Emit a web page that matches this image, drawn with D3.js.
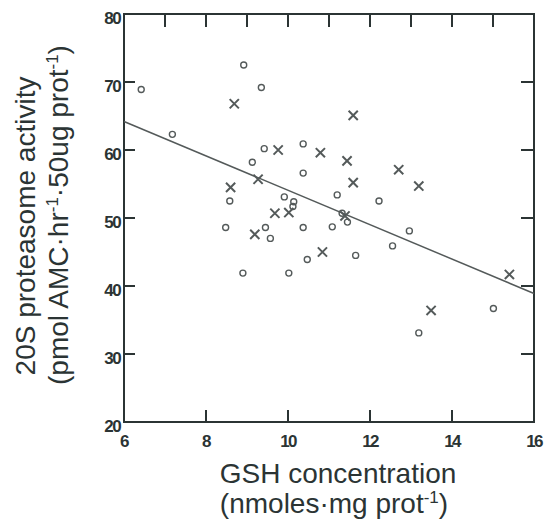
<!DOCTYPE html>
<html>
<head>
<meta charset="utf-8">
<script src="https://cdn.jsdelivr.net/npm/d3@7"></script>
</head>
<body style="margin:0;background:#fff">
<div id="chart"></div>
<script>
// values
const circleX = [6.42, 7.18, 8.92, 9.35, 9.42, 10.37, 9.13, 10.37, 11.20, 9.91, 8.58, 12.22, 10.14, 10.12,
                 11.32, 11.45, 8.48, 9.45, 10.37, 11.08, 12.96, 9.57, 12.55, 10.47, 11.65, 8.90, 10.02,
                 13.19, 15.01];
const circleY = [68.9, 62.3, 72.5, 69.2, 60.2, 60.9, 58.2, 56.6, 53.4, 53.1, 52.5, 52.5, 52.4, 51.7,
                 50.7, 49.4, 48.6, 48.6, 48.6, 48.7, 48.1, 47.0, 45.9, 43.9, 44.5, 41.9, 41.9,
                 33.1, 36.7];
const crossX = [8.69, 11.59, 9.76, 10.79, 11.44, 12.70, 9.27, 11.59, 13.19, 8.60, 9.68, 10.02, 11.39,
                9.19, 10.84, 15.40, 13.49];
const crossY = [66.8, 65.1, 60.0, 59.6, 58.4, 57.1, 55.7, 55.2, 54.7, 54.5, 50.7, 50.8, 50.3,
                47.6, 45.0, 41.7, 36.4];
const fitX = [6, 16];
const fitY = [64.2, 38.9];

const xTickLabels = [6, 8, 10, 12, 14, 16];
const xTopTicks = [7, 8, 9, 10, 11, 12, 13, 14, 15];
const xBottomTicks = [8, 10, 12, 14];
const yTickLabels = [20, 30, 40, 50, 60, 70, 80];
const ySideTicks = [30, 40, 50, 60, 70];

const W = 545, H = 527;
const pad = {top: 14, left: 124, right: 11, bottom: 105};
const ink = "#2b3434";
const markColor = "#545a5a";
const fontFam = "Liberation Sans, Arial, sans-serif";

const svg = d3.select("#chart").append("svg")
    .attr("width", W)
    .attr("height", H);

const xs = d3.scaleLinear().domain([6, 16]).range([pad.left, W - pad.right]);
const ys = d3.scaleLinear().domain([20, 80]).range([H - pad.bottom, pad.top]);

const plotLeft = xs(6), plotRight = xs(16), plotTop = ys(80), plotBottom = ys(20);

// inward ticks, drawn first; they start at the inner edge of the frame stroke
const tickG = svg.append("g").attr("fill", ink);

tickG.selectAll(".tl")
    .data(ySideTicks)
    .join("rect")
    .attr("class", "tl")
    .attr("x", plotLeft + 1).attr("width", 10)
    .attr("y", d => ys(d) - 1).attr("height", 2);

tickG.selectAll(".tr")
    .data(ySideTicks)
    .join("rect")
    .attr("class", "tr")
    .attr("x", plotRight - 13).attr("width", 12)
    .attr("y", d => ys(d) - 1).attr("height", 2);

tickG.selectAll(".tt")
    .data(xTopTicks)
    .join("rect")
    .attr("class", "tt")
    .attr("x", d => xs(d) - 1).attr("width", 2)
    .attr("y", plotTop + 1).attr("height", 12);

tickG.selectAll(".tb")
    .data(xBottomTicks)
    .join("rect")
    .attr("class", "tb")
    .attr("x", d => xs(d) - 1).attr("width", 2)
    .attr("y", plotBottom - 12).attr("height", 11);

// frame
svg.append("rect")
    .attr("x", plotLeft)
    .attr("y", plotTop)
    .attr("width", plotRight - plotLeft)
    .attr("height", plotBottom - plotTop)
    .attr("fill", "none")
    .attr("stroke", ink)
    .attr("stroke-width", 2);

// tick labels
svg.append("g")
    .selectAll("text")
    .data(yTickLabels)
    .join("text")
    .attr("x", plotLeft - 4)
    .attr("y", d => ys(d) + 10)
    .attr("text-anchor", "end")
    .attr("font-family", fontFam)
    .attr("font-size", 17)
    .attr("font-weight", "bold")
    .attr("letter-spacing", -1.6)
    .attr("fill", ink)
    .text(d => d);

svg.append("g")
    .selectAll("text")
    .data(xTickLabels)
    .join("text")
    .attr("x", d => xs(d))
    .attr("y", plotBottom + 25)
    .attr("text-anchor", "middle")
    .attr("font-family", fontFam)
    .attr("font-size", 17)
    .attr("font-weight", "bold")
    .attr("letter-spacing", -1.6)
    .attr("fill", ink)
    .text(d => d);

// regression line
svg.append("line")
    .attr("x1", xs(fitX[0])).attr("y1", ys(fitY[0]))
    .attr("x2", xs(fitX[1])).attr("y2", ys(fitY[1]))
    .attr("stroke", markColor)
    .attr("stroke-width", 1.5);

// open circles
svg.append("g")
    .selectAll("circle")
    .data(d3.zip(circleX, circleY))
    .join("circle")
    .attr("cx", d => xs(d[0]))
    .attr("cy", d => ys(d[1]))
    .attr("r", 3)
    .attr("fill", "none")
    .attr("stroke", markColor)
    .attr("stroke-width", 1.4);

// crosses
const arm = 4.6;
svg.append("g")
    .selectAll("path")
    .data(d3.zip(crossX, crossY))
    .join("path")
    .attr("d", d => {
        const cx = xs(d[0]), cy = ys(d[1]);
        return `M${cx - arm},${cy - arm}L${cx + arm},${cy + arm}M${cx - arm},${cy + arm}L${cx + arm},${cy - arm}`;
    })
    .attr("fill", "none")
    .attr("stroke", markColor)
    .attr("stroke-width", 2);

// axis titles
const title = (t, px, py, rot) => svg.append("text")
    .attr("transform", `translate(${px},${py})` + (rot ? " rotate(-90)" : ""))
    .attr("text-anchor", "middle")
    .attr("font-family", fontFam)
    .attr("font-size", 28)
    .attr("fill", ink)
    .text(t);

title("GSH concentration", 338, 483, false);
const xSub = title("", 334, 513, false);
xSub.append("tspan").text("(nmoles\u00b7mg prot");
xSub.append("tspan").attr("font-size", 17).attr("dy", -10).text("-1");
xSub.append("tspan").attr("dy", 10).text(")");

title("20S proteasome activity", 35, 226, true);
const ySub = title("", 68, 215, true);
ySub.append("tspan").text("(pmol AMC\u00b7hr");
ySub.append("tspan").attr("font-size", 17).attr("dy", -10).text("-1");
ySub.append("tspan").attr("dy", 10).text("\u00b750ug prot");
ySub.append("tspan").attr("font-size", 17).attr("dy", -10).text("-1");
ySub.append("tspan").attr("dy", 10).text(")");
</script>
</body>
</html>
